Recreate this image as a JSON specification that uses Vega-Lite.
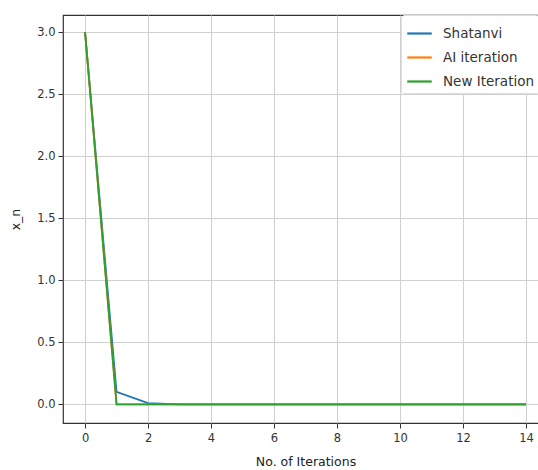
{
  "$schema": "https://vega.github.io/schema/vega-lite/v6.json",
  "autosize": "none",
  "width": 485,
  "height": 408,
  "padding": {"left": 63, "top": 15, "right": 0, "bottom": 47},
  "background": "white",
  "config": {
    "font": "DejaVu Sans",
    "view": {"stroke": "#333333", "strokeWidth": 1.2},
    "axis": {
      "labelFont": "DejaVu Sans",
      "titleFont": "DejaVu Sans",
      "labelFontSize": 11.5,
      "titleFontSize": 12.5,
      "titleFontWeight": "normal",
      "labelColor": "#333333",
      "titleColor": "#222222",
      "gridColor": "#d0d0d0",
      "gridWidth": 1,
      "domain": false,
      "tickColor": "#333333",
      "tickSize": 5
    }
  },
  "data": {
    "values": [
      {"iter": 0, "x_n": 3.0, "method": "Shatanvi"},
      {"iter": 1, "x_n": 0.1, "method": "Shatanvi"},
      {"iter": 2, "x_n": 0.01, "method": "Shatanvi"},
      {"iter": 3, "x_n": 0.0, "method": "Shatanvi"},
      {"iter": 4, "x_n": 0.0, "method": "Shatanvi"},
      {"iter": 5, "x_n": 0.0, "method": "Shatanvi"},
      {"iter": 6, "x_n": 0.0, "method": "Shatanvi"},
      {"iter": 7, "x_n": 0.0, "method": "Shatanvi"},
      {"iter": 8, "x_n": 0.0, "method": "Shatanvi"},
      {"iter": 9, "x_n": 0.0, "method": "Shatanvi"},
      {"iter": 10, "x_n": 0.0, "method": "Shatanvi"},
      {"iter": 11, "x_n": 0.0, "method": "Shatanvi"},
      {"iter": 12, "x_n": 0.0, "method": "Shatanvi"},
      {"iter": 13, "x_n": 0.0, "method": "Shatanvi"},
      {"iter": 14, "x_n": 0.0, "method": "Shatanvi"},
      {"iter": 0, "x_n": 3.0, "method": "AI iteration"},
      {"iter": 1, "x_n": 0.0, "method": "AI iteration"},
      {"iter": 2, "x_n": 0.0, "method": "AI iteration"},
      {"iter": 3, "x_n": 0.0, "method": "AI iteration"},
      {"iter": 4, "x_n": 0.0, "method": "AI iteration"},
      {"iter": 5, "x_n": 0.0, "method": "AI iteration"},
      {"iter": 6, "x_n": 0.0, "method": "AI iteration"},
      {"iter": 7, "x_n": 0.0, "method": "AI iteration"},
      {"iter": 8, "x_n": 0.0, "method": "AI iteration"},
      {"iter": 9, "x_n": 0.0, "method": "AI iteration"},
      {"iter": 10, "x_n": 0.0, "method": "AI iteration"},
      {"iter": 11, "x_n": 0.0, "method": "AI iteration"},
      {"iter": 12, "x_n": 0.0, "method": "AI iteration"},
      {"iter": 13, "x_n": 0.0, "method": "AI iteration"},
      {"iter": 14, "x_n": 0.0, "method": "AI iteration"},
      {"iter": 0, "x_n": 3.0, "method": "New Iteration"},
      {"iter": 1, "x_n": 0.0, "method": "New Iteration"},
      {"iter": 2, "x_n": 0.0, "method": "New Iteration"},
      {"iter": 3, "x_n": 0.0, "method": "New Iteration"},
      {"iter": 4, "x_n": 0.0, "method": "New Iteration"},
      {"iter": 5, "x_n": 0.0, "method": "New Iteration"},
      {"iter": 6, "x_n": 0.0, "method": "New Iteration"},
      {"iter": 7, "x_n": 0.0, "method": "New Iteration"},
      {"iter": 8, "x_n": 0.0, "method": "New Iteration"},
      {"iter": 9, "x_n": 0.0, "method": "New Iteration"},
      {"iter": 10, "x_n": 0.0, "method": "New Iteration"},
      {"iter": 11, "x_n": 0.0, "method": "New Iteration"},
      {"iter": 12, "x_n": 0.0, "method": "New Iteration"},
      {"iter": 13, "x_n": 0.0, "method": "New Iteration"},
      {"iter": 14, "x_n": 0.0, "method": "New Iteration"}
    ]
  },
  "mark": {"type": "line", "strokeWidth": 1.8, "clip": true},
  "encoding": {
    "x": {
      "field": "iter",
      "type": "quantitative",
      "scale": {"domain": [-0.7, 14.7], "nice": false, "zero": false},
      "axis": {"values": [0, 2, 4, 6, 8, 10, 12, 14], "title": "No. of Iterations", "titlePadding": 12, "labelPadding": 4}
    },
    "y": {
      "field": "x_n",
      "type": "quantitative",
      "scale": {"domain": [-0.15, 3.137], "nice": false, "zero": false},
      "axis": {"values": [0, 0.5, 1, 1.5, 2, 2.5, 3], "format": ".1f", "title": "x_n", "titlePadding": 14, "labelPadding": 3}
    },
    "color": {
      "field": "method",
      "type": "nominal",
      "sort": ["Shatanvi", "AI iteration", "New Iteration"],
      "scale": {"domain": ["Shatanvi", "AI iteration", "New Iteration"], "range": ["#1f77b4", "#ff7f0e", "#2ca02c"]},
      "legend": {
        "title": null,
        "orient": "none",
        "legendX": 338,
        "legendY": 0,
        "symbolType": "stroke",
        "symbolSize": 600,
        "symbolStrokeWidth": 2.2,
        "labelFont": "DejaVu Sans",
        "labelFontSize": 13.5,
        "labelColor": "#333333",
        "labelOffset": 10,
        "rowPadding": 4,
        "padding": 5,
        "strokeColor": "#dddddd",
        "fillColor": "white",
        "cornerRadius": 3
      }
    },
    "order": {"field": "iter"}
  }
}
